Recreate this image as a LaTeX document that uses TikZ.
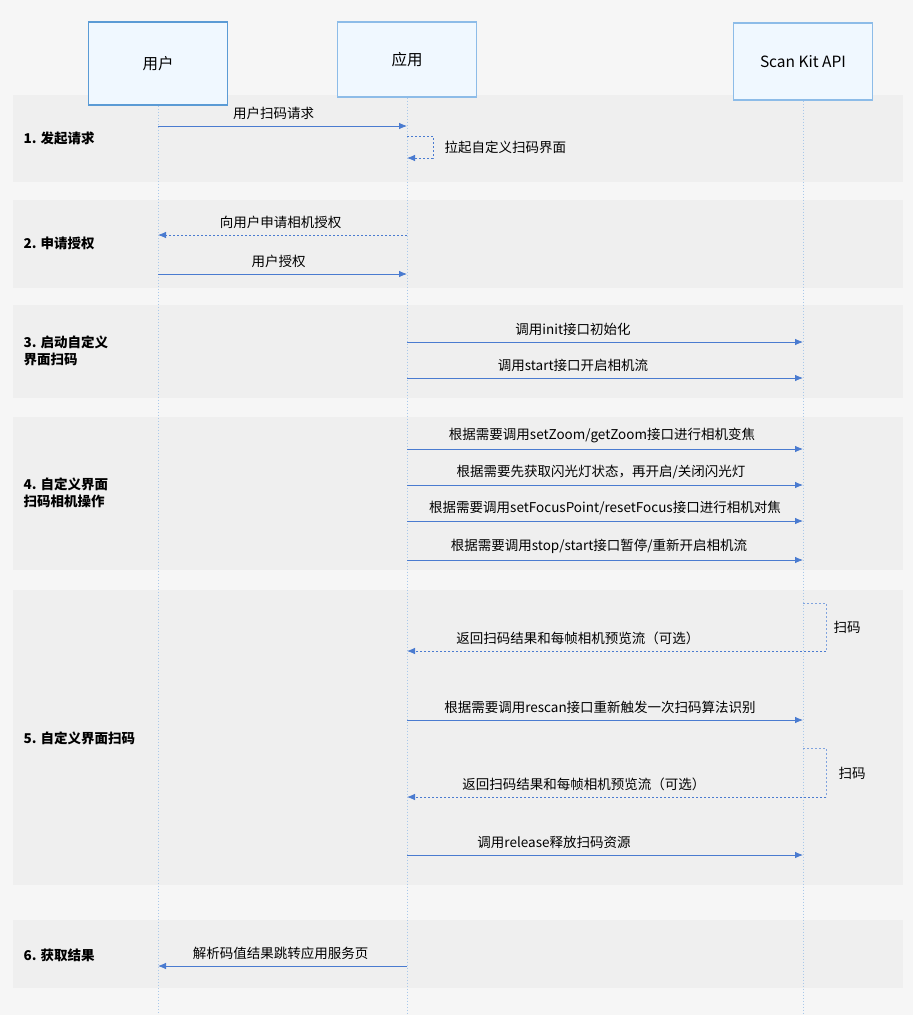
\documentclass[tikz,border=0pt]{standalone}
\usepackage{fontspec}
\setmainfont{Noto Sans CJK SC}
\usetikzlibrary{positioning,arrows.meta}
\definecolor{pagebg}{HTML}{F6F6F6}
\definecolor{bandbg}{HTML}{EFEFEF}
\definecolor{boxbg}{HTML}{F0F8FF}
\definecolor{boxline}{HTML}{8DBCE8}
\definecolor{userline}{HTML}{5B9BD5}
\definecolor{msgline}{HTML}{4A7BD0}
\definecolor{lifeline}{HTML}{A9C8EA}

\begin{document}
\begin{tikzpicture}[x=1pt,y=-1pt,
  font=\fontsize{13.5pt}{16pt}\selectfont,
  actor/.style={draw=boxline,line width=1.2pt,fill=boxbg,minimum width=139pt,minimum height=77pt,inner sep=0pt,font=\fontsize{15.5pt}{18pt}\selectfont},
  band/.style={fill=bandbg,draw=none},
  phase/.style={anchor=west,align=left,font=\fontsize{13.5pt}{17pt}\selectfont\bfseries},
  life/.style={draw=lifeline,line width=0.7pt,dash pattern=on 1.5pt off 1.5pt},
  msg/.style={draw=msgline,line width=0.8pt,-{Latex[length=8pt,width=6.5pt]}},
  reply/.style={msg,dash pattern=on 2pt off 2pt},
  loop/.style={draw=msgline!70,line width=0.8pt,dash pattern=on 2pt off 2pt},
  lbl/.style={above=5pt,inner sep=1pt}]
\useasboundingbox[fill=pagebg] (0,0) rectangle (913,1015);
% phases
\fill[band] (13,95) rectangle (903,182);
\fill[band] (13,200) rectangle (903,288);
\fill[band] (13,305) rectangle (903,398);
\fill[band] (13,417) rectangle (903,570);
\fill[band] (13,590) rectangle (903,885);
\fill[band] (13,920) rectangle (903,988);
\node[phase] (p1) at (20,138) {1. 发起请求};
\node[phase] (p2) at (20,243) {2. 申请授权};
\node[phase] (p3) at (20,351) {3. 启动自定义\\界面扫码};
\node[phase] (p4) at (20,493) {4. 自定义界面\\扫码相机操作};
\node[phase] (p5) at (20,738) {5. 自定义界面扫码};
\node[phase] (p6) at (20,955) {6. 获取结果};
% actors
\node[actor,draw=userline,line width=1.8pt,minimum height=83pt] (usr) at (158,63.5) {用户};
\node[actor,minimum height=75pt] (app) at (407,59.5) {应用};
\node[actor] (kit) at (803,61.5) {Scan Kit API};
\coordinate (usrEnd) at (158,1015);
\coordinate (appEnd) at (407,1015);
\coordinate (kitEnd) at (803,1015);
\draw[life] (usr.south) -- (usrEnd);
\draw[life] (app.south) -- (appEnd);
\draw[life] (kit.south) -- (kitEnd);
% message end points
\coordinate (u1) at (158,126);   \coordinate (a1) at (407,126);
\coordinate (u2) at (158,235);   \coordinate (a2) at (407,235);
\coordinate (u3) at (158,274);   \coordinate (a3) at (407,274);
\coordinate (a4) at (407,342);   \coordinate (k4) at (803,342);
\coordinate (a5) at (407,378);   \coordinate (k5) at (803,378);
\coordinate (a6) at (407,449);   \coordinate (k6) at (803,449);
\coordinate (a7) at (407,485);   \coordinate (k7) at (803,485);
\coordinate (a8) at (407,521);   \coordinate (k8) at (803,521);
\coordinate (a9) at (407,560);   \coordinate (k9) at (803,560);
\coordinate (a10) at (407,651);  \coordinate (k10) at (826,651);
\coordinate (a11) at (407,720);  \coordinate (k11) at (803,720);
\coordinate (a12) at (407,797);  \coordinate (k12) at (826,797);
\coordinate (a13) at (407,855);  \coordinate (k13) at (803,855);
\coordinate (u14) at (158,966);  \coordinate (a14) at (407,966);
% messages
\path[msg] (u1) -- node[lbl,xshift=-9pt] {用户扫码请求} (a1);
\path[reply] (407,136) -- (433,136) -- (433,158) -- (407,158);
\node[anchor=west] (t1) at (441,147) {拉起自定义扫码界面};
\path[reply] (a2) -- node[lbl,xshift=-2pt] {向用户申请相机授权} (u2);
\path[msg] (u3) -- node[lbl,xshift=-4pt] {用户授权} (a3);
\path[msg] (a4) -- node[lbl,xshift=-32pt] {调用init接口初始化} (k4);
\path[msg] (a5) -- node[lbl,xshift=-32pt] {调用start接口开启相机流} (k5);
\path[msg] (a6) -- node[lbl,xshift=-3pt] {根据需要调用setZoom/getZoom接口进行相机变焦} (k6);
\path[msg] (a7) -- node[lbl,xshift=-4pt] {根据需要先获取闪光灯状态，再开启/关闭闪光灯} (k7);
\path[msg] (a8) -- node[lbl] {根据需要调用setFocusPoint/resetFocus接口进行相机对焦} (k8);
\path[msg] (a9) -- node[lbl,xshift=-6pt] {根据需要调用stop/start接口暂停/重新开启相机流} (k9);
\path[loop] (803,603) -- (826,603) -- (k10);
\node[anchor=west] (s1) at (830,627) {扫码};
\path[reply] (k10) -- node[lbl,pos=0.592] {返回扫码结果和每帧相机预览流（可选）} (a10);
\path[msg] (a11) -- node[lbl,xshift=-5pt] {根据需要调用rescan接口重新触发一次扫码算法识别} (k11);
\path[loop] (803,748) -- (826,748) -- (k12);
\node[anchor=west] (s2) at (835,773) {扫码};
\path[reply] (k12) -- node[lbl,pos=0.578] {返回扫码结果和每帧相机预览流（可选）} (a12);
\path[msg] (a13) -- node[lbl,xshift=-51pt] {调用release释放扫码资源} (k13);
\path[msg] (a14) -- node[lbl,xshift=-2pt] {解析码值结果跳转应用服务页} (u14);
\end{tikzpicture}
\end{document}
